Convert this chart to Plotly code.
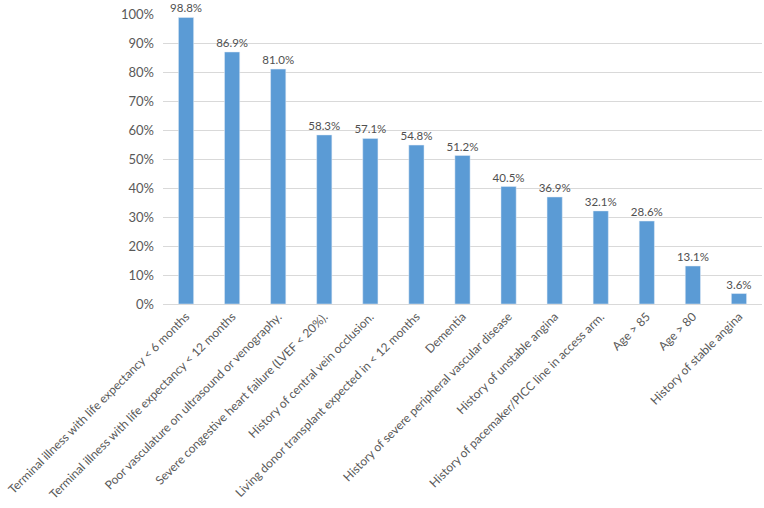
import plotly.graph_objects as go

categories = [
    'Terminal illness with life expectancy < 6 months',
    'Terminal illness with life expectancy < 12 months',
    'Poor vasculature on ultrasound or venography.',
    'Severe congestive heart failure (LVEF < 20%).',
    'History of central vein occlusion.',
    'Living donor transplant expected in < 12 months',
    'Dementia',
    'History of severe peripheral vascular disease',
    'History of unstable angina',
    'History of pacemaker/PICC line in access arm.',
    'Age > 85',
    'Age > 80',
    'History of stable angina',
]
values = [98.8, 86.9, 81.0, 58.3, 57.1, 54.8, 51.2, 40.5, 36.9, 32.1, 28.6, 13.1, 3.6]
y_ticks = [0, 10, 20, 30, 40, 50, 60, 70, 80, 90, 100]
y_labels = [f'{t}%' for t in y_ticks]

fig = go.Figure()

fig.add_trace(go.Bar(
    x=categories,
    y=values,
    marker=dict(color='#5B9BD5'),
    text=[f'{v:.1f}%' for v in values],
    textposition='outside',
    constraintext='none',
    textfont=dict(size=11.5, color='#505050'),
    cliponaxis=False,
))

fig.update_layout(
    width=764, height=508,
    margin=dict(l=163, r=2, t=14, b=204),
    paper_bgcolor='white',
    plot_bgcolor='white',
    font=dict(family='Lato, Open Sans, sans-serif', color='#595959', size=12),
    bargap=0.67,
    showlegend=False,
    xaxis=dict(
        tickangle=-45,
        automargin=False,
        showline=True, linecolor='#d9d9d9', linewidth=1,
        ticks='', tickfont=dict(size=12, color='#595959'),
    ),
    yaxis=dict(
        range=[0, 100],
        automargin=False,
        tickvals=y_ticks,
        ticktext=y_labels,
        ticklabelstandoff=8,
        showgrid=True, gridcolor='#d9d9d9', gridwidth=1,
        zeroline=False, showline=False, ticks='',
        tickfont=dict(size=13, color='#595959'),
    ),
)

# drop the default 8px body margin so the figure sits at the page corner
fig.write_html("out.html", config={'displayModeBar': False},
               post_script="document.body.style.margin='0';")
